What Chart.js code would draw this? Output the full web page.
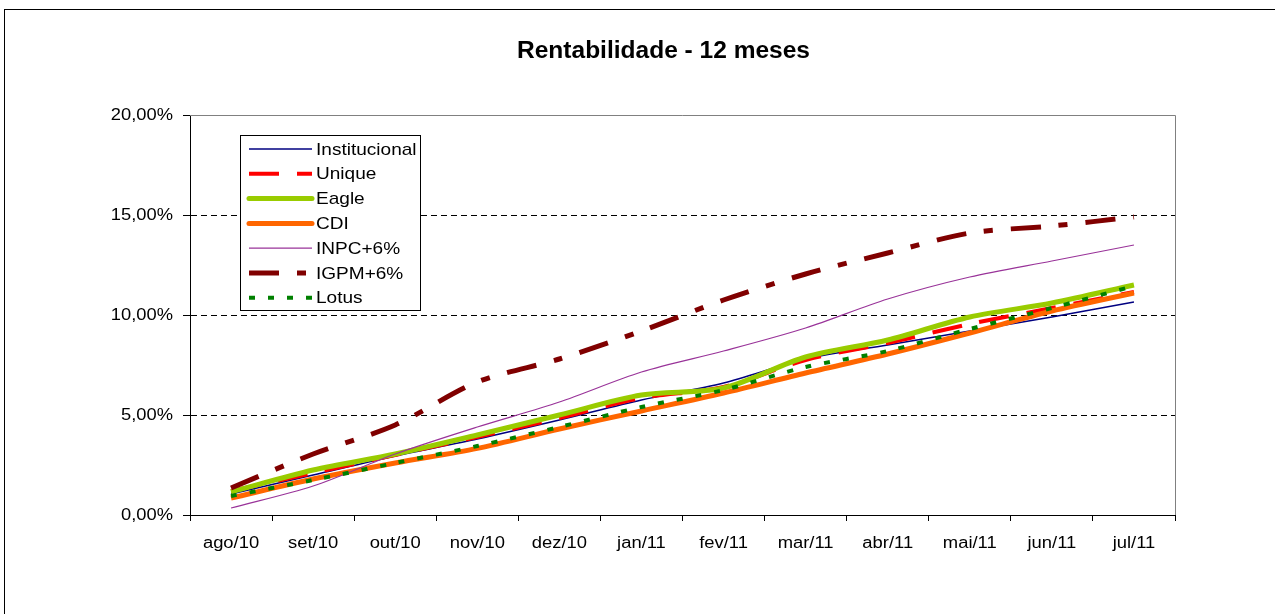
<!DOCTYPE html>
<html><head><meta charset="utf-8">
<script src="https://cdn.jsdelivr.net/npm/chart.js@4/dist/chart.umd.min.js"></script>
<style>html,body{margin:0;padding:0;background:#fff;overflow:hidden}#wrap{position:absolute;left:0;top:0;width:1275px;height:614px}</style>
</head><body><div id="wrap"><canvas id="c" width="1275" height="614"></canvas></div>
<script>
const categories = ['ago/10','set/10','out/10','nov/10','dez/10','jan/11','fev/11','mar/11','abr/11','mai/11','jun/11','jul/11'];
const institucional = [1.05, 2.0, 2.95, 3.8, 4.75, 5.75, 6.6, 7.8, 8.5, 9.2, 9.9, 10.65];
const unique = [1.2, 2.1, 3.0, 3.9, 4.85, 5.85, 6.4, 7.75, 8.6, 9.55, 10.35, 11.15];
const eagle = [1.15, 2.25, 3.05, 4.0, 5.0, 6.0, 6.35, 7.9, 8.75, 9.9, 10.6, 11.5];
const cdi = [0.85, 1.8, 2.6, 3.33, 4.3, 5.2, 6.1, 7.1, 8.05, 9.1, 10.2, 11.1];
const inpc = [0.35, 1.45, 3.05, 4.4, 5.65, 7.15, 8.2, 9.35, 10.8, 11.9, 12.7, 13.5];
const igpm = [1.35, 3.05, 4.5, 6.65, 7.8, 9.2, 10.75, 12.05, 13.1, 14.1, 14.45, 14.9];
const lotus = [0.95, 1.75, 2.6, 3.45, 4.4, 5.4, 6.25, 7.4, 8.2, 9.3, 10.35, 11.45];
const yTicks = [0, 5, 10, 15, 20];
const chartTitle = 'Rentabilidade - 12 meses';

const FONT = 'Liberation Sans, Arial, sans-serif';

function ds(label, data, color, width, dash, order) {
  return { label, data, borderColor: color, backgroundColor: color, borderWidth: width,
    borderDash: dash, pointRadius: 0, pointHoverRadius: 0, tension: 0.3, fill: false,
    borderCapStyle: 'butt', order };
}

const datasets = [
  ds('Institucional', institucional, '#000080', 1.5, [], 6),
  ds('Unique', unique, '#FF0000', 4, [30, 18], 5),
  ds('Eagle', eagle, '#99CC00', 5, [], 4),
  ds('CDI', cdi, '#FF6600', 5, [], 3),
  ds('INPC+6%', inpc, '#993399', 1.2, [], 2),
  ds('IGPM+6%', igpm, '#800000', 5, [30, 18, 9, 18], 1),
  ds('Lotus', lotus, '#008000', 4, [6, 13], 0)
];

function stretchText(ctx, text, x, y, sx, align) {
  ctx.save();
  ctx.translate(x, y);
  ctx.scale(sx, 1);
  ctx.textAlign = align;
  ctx.fillText(text, 0, 0);
  ctx.restore();
}

const framePlugin = {
  id: 'frame',
  beforeDraw(chart) {
    const ctx = chart.ctx;
    ctx.save();
    ctx.fillStyle = '#fff';
    ctx.fillRect(0, 0, chart.width, chart.height);
    ctx.strokeStyle = '#000';
    ctx.lineWidth = 1;
    ctx.strokeRect(4.5, 9.5, 1400, 800);
    ctx.fillStyle = '#000';
    ctx.font = 'bold 23px ' + FONT;
    ctx.textBaseline = 'middle';
    const w = ctx.measureText(chartTitle).width;
    stretchText(ctx, chartTitle, 663.5, 52, 293 / w, 'center');
    ctx.restore();
  },
  beforeDatasetsDraw(chart) {
    const a = chart.chartArea, ctx = chart.ctx;
    ctx.save();
    ctx.strokeStyle = '#808080';
    ctx.lineWidth = 1;
    ctx.beginPath();
    ctx.moveTo(a.left, Math.round(a.top) + 0.5);
    ctx.lineTo(Math.round(a.right) + 0.5, Math.round(a.top) + 0.5);
    ctx.lineTo(Math.round(a.right) + 0.5, a.bottom);
    ctx.stroke();
    ctx.restore();
  },
  afterDraw(chart) {
    const ctx = chart.ctx;
    ctx.save();
    // tick labels (stretched like the original)
    ctx.fillStyle = '#000';
    ctx.font = '16px ' + FONT;
    ctx.textBaseline = 'middle';
    const xs = chart.scales.x, ys = chart.scales.y;
    xs.ticks.forEach((t, i) => {
      stretchText(ctx, String(t.label), xs.getPixelForTick(i), 544, 1.15, 'center');
    });
    ys.ticks.forEach((t, i) => {
      stretchText(ctx, String(t.label), 173, ys.getPixelForTick(i) + 1, 1.145, 'right');
    });
    // legend
    const bx = 240.5, by = 135.5, bw = 180, bh = 175;
    ctx.fillStyle = '#fff';
    ctx.fillRect(bx, by, bw, bh);
    ctx.strokeStyle = '#000';
    ctx.lineWidth = 1;
    ctx.strokeRect(bx, by, bw, bh);
    ctx.font = '17px ' + FONT;
    ctx.textBaseline = 'middle';
    chart.data.datasets.forEach((d, i) => {
      const y = 149 + i * 24.8;
      ctx.save();
      ctx.strokeStyle = d.borderColor;
      ctx.lineWidth = d.borderWidth;
      ctx.setLineDash(d.borderDash || []);
      ctx.lineCap = (d.borderWidth >= 5 && (!d.borderDash || !d.borderDash.length)) ? 'round' : 'butt';
      ctx.beginPath();
      ctx.moveTo(249, y);
      ctx.lineTo(312, y);
      ctx.stroke();
      ctx.restore();
      ctx.fillStyle = '#000';
      stretchText(ctx, d.label, 316, y + 1, 1.12, 'left');
    });
    ctx.restore();
  }
};

new Chart(document.getElementById('c'), {
  type: 'line',
  data: { labels: categories, datasets },
  plugins: [framePlugin],
  options: {
    responsive: false,
    animation: false,
    events: [],
    layout: { padding: { left: 0, right: 100, top: 115, bottom: 0 } },
    plugins: { legend: { display: false }, tooltip: { enabled: false }, title: { display: false } },
    scales: {
      x: {
        type: 'category',
        offset: true,
        grid: { display: true, offset: true, drawOnChartArea: false, drawTicks: true, tickLength: 6, color: '#000', tickColor: '#000' },
        border: { display: true, color: '#000', width: 1 },
        ticks: { color: 'rgba(0,0,0,0)', font: { family: FONT, size: 16 }, padding: 14, maxRotation: 0, autoSkip: false },
        afterFit(s) { s.height = 99; }
      },
      y: {
        min: 0, max: 20,
        afterBuildTicks(s) { s.ticks = yTicks.map(v => ({ value: v })); },
        grid: {
          drawTicks: true, tickLength: 7,
          color: (c) => (c.tick && (c.tick.value === 0 || c.tick.value === 20)) ? 'rgba(0,0,0,0)' : '#000',
          tickColor: '#000', lineWidth: 1
        },
        border: { display: true, color: '#000', width: 1, dash: [6, 4] },
        ticks: { color: 'rgba(0,0,0,0)', font: { family: FONT, size: 16 }, padding: 10,
          callback: (v) => Number(v).toFixed(2).replace('.', ',') + '%' },
        afterFit(s) { s.width = 190; }
      }
    }
  }
});
</script>
</body></html>
